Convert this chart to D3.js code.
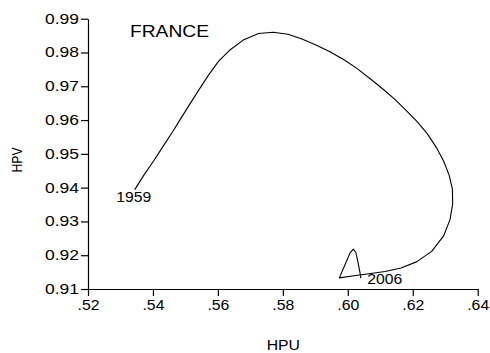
<!DOCTYPE html>
<html>
<head>
<meta charset="utf-8">
<script src="https://cdn.jsdelivr.net/npm/d3@7/dist/d3.min.js"></script>
<style>
  html, body { margin: 0; padding: 0; background: #fff; }
  svg { display: block; }
  text { font-family: "Liberation Sans", Arial, Helvetica, sans-serif; fill: #000; }
</style>
</head>
<body>
<svg id="chart" width="490" height="353"></svg>
<script>
// France: trend unemployment (HPU) vs trend vacancies (HPV), 1959-2006
const years = d3.range(1959, 2007);
const hpu = [
  0.5344, 0.5372, 0.5402, 0.5431, 0.5459, 0.5486, 0.5514, 0.5542, 0.5571, 0.5603,
  0.5639, 0.5680, 0.5725, 0.5770, 0.5816, 0.5859, 0.5902, 0.5945, 0.5987, 0.6028,
  0.6068, 0.6108, 0.6145, 0.6181, 0.6215, 0.6245, 0.6272, 0.6295, 0.6312, 0.6322,
  0.6323, 0.6315, 0.6295, 0.6259, 0.6213, 0.6164, 0.6115, 0.6065, 0.6019, 0.5974,
  0.5991, 0.6007, 0.6017, 0.6025, 0.6031, 0.6036, 0.6039, 0.6040
];
const hpv = [
  0.9394, 0.9437, 0.9479, 0.9522, 0.9563, 0.9605, 0.9648, 0.9690, 0.9733, 0.9775,
  0.9809, 0.9838, 0.9856, 0.9860, 0.9854, 0.9840, 0.9822, 0.9802, 0.9779, 0.9753,
  0.9723, 0.9692, 0.9661, 0.9627, 0.9594, 0.9559, 0.9520, 0.9479, 0.9437, 0.9396,
  0.9352, 0.9306, 0.9257, 0.9212, 0.9181, 0.9162, 0.9152, 0.9145, 0.9139, 0.9133,
  0.9171, 0.9207, 0.9218, 0.9208, 0.9180, 0.9156, 0.9141, 0.9132
];
const xTicks = [0.52, 0.54, 0.56, 0.58, 0.60, 0.62, 0.64];
const yTicks = [0.91, 0.92, 0.93, 0.94, 0.95, 0.96, 0.97, 0.98, 0.99];
const title = "FRANCE";
const xTitle = "HPU";
const yTitle = "HPV";

const svg = d3.select("#chart");
const plot = { left: 88, right: 477.7, top: 18.7, bottom: 289 };

const x = d3.scaleLinear().domain([0.52, 0.64]).range([plot.left, plot.right]);
const y = d3.scaleLinear().domain([0.91, 0.99]).range([plot.bottom, plot.top]);

// stretch a text element to a given rendered width
function fit(sel, w) { sel.attr("textLength", w).attr("lengthAdjust", "spacingAndGlyphs"); }

const yAxis = svg.append("g")
  .attr("transform", `translate(${plot.left},0)`)
  .call(d3.axisLeft(y).tickValues(yTicks).tickFormat(d3.format(".2f"))
    .tickSize(7).tickSizeOuter(0).tickPadding(2));
const xAxis = svg.append("g")
  .attr("transform", `translate(0,${plot.bottom})`)
  .call(d3.axisBottom(x).tickValues(xTicks)
    .tickFormat(d => d3.format(".2f")(d).replace(/^0/, ""))
    .tickSize(7).tickSizeOuter(0).tickPadding(4));

[yAxis, xAxis].forEach(g => {
  g.selectAll("path.domain, line").attr("stroke", "#000").attr("stroke-width", 1.2);
  g.selectAll("text").style("font-size", "14px").attr("fill", "#000");
  g.attr("font-family", null);
});
yAxis.selectAll("text").call(fit, 34);
xAxis.selectAll("text").call(fit, 22);

// trajectory
const pts = years.map((yr, i) => [hpu[i], hpv[i]]);
svg.append("path")
  .datum(pts)
  .attr("fill", "none")
  .attr("stroke", "#000")
  .attr("stroke-width", 1.1)
  .attr("stroke-linejoin", "round")
  .attr("d", d3.line().x(d => x(d[0])).y(d => y(d[1])));

// start and end year labels
const n = years.length - 1;
svg.append("text")
  .attr("x", x(hpu[0]) - 18.5).attr("y", y(hpv[0]) + 12.8)
  .style("font-size", "14.5px").text(years[0]).call(fit, 35);
svg.append("text")
  .attr("x", x(hpu[n]) + 6.6).attr("y", y(hpv[n]) + 6)
  .style("font-size", "14.5px").text(years[n]).call(fit, 35);

// titles
svg.append("text").attr("x", 130).attr("y", 36.7)
  .style("font-size", "16px").text(title).call(fit, 79);
svg.append("text").attr("x", 283.3).attr("y", 350).attr("text-anchor", "middle")
  .style("font-size", "15.5px").text(xTitle).call(fit, 33.3);
svg.append("text").attr("transform", "translate(21.7,160) rotate(-90)")
  .attr("text-anchor", "middle")
  .style("font-size", "14px").text(yTitle).call(fit, 25);
</script>
</body>
</html>
